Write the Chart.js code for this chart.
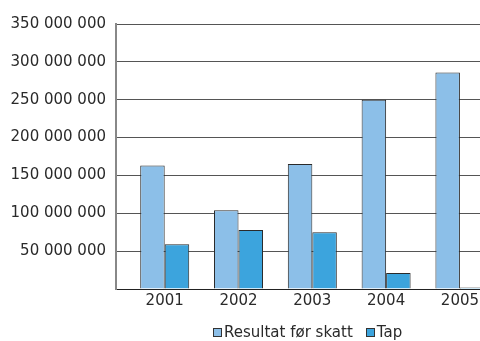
<!DOCTYPE html>
<html>
<head>
<meta charset="utf-8">
<script src="https://cdn.jsdelivr.net/npm/chart.js@4/dist/chart.umd.min.js"></script>
<style>
  html, body { margin: 0; padding: 0; background: #fff; }
  #wrap { position: relative; width: 480px; height: 341px; overflow: hidden; }
  #legend {
    position: absolute; left: 213px; top: 323px;
    display: flex; align-items: center;
    font: 15px "DejaVu Sans", sans-serif; color: #2a2a2a; line-height: 18px;
    white-space: nowrap;
  }
  #legend .box {
    display: inline-block; width: 9px; height: 9px; box-sizing: border-box;
    border: 1px solid #333; margin-right: 2px;
  }
  #legend .item + .item { margin-left: 13px; }
  #legend .item { display: flex; align-items: center; }
</style>
</head>
<body>
<div id="wrap">
  <canvas id="chart" width="480" height="341"></canvas>
  <div id="legend"></div>
</div>
<script>
var YEARS = [2001, 2002, 2003, 2004, 2005];
var RESULTAT = [163000000, 104000000, 165000000, 250000000, 286000000];
var TAP = [59000000, 78000000, 75000000, 21000000, 2000000];
var SERIES_NAMES = ["Resultat før skatt", "Tap"];
var Y_TICKS = [0, 50000000, 100000000, 150000000, 200000000, 250000000, 300000000, 350000000];

var COLORS = ["#8cbfe8", "#3ca4dd"];
var FONT = { family: "'DejaVu Sans', sans-serif", size: 15 };

function spaced(v) {
  return String(v).replace(/\B(?=(\d{3})+(?!\d))/g, " ");
}

var ctx = document.getElementById("chart");
new Chart(ctx, {
  type: "bar",
  data: {
    labels: YEARS,
    datasets: [
      {
        label: SERIES_NAMES[0],
        data: RESULTAT,
        backgroundColor: COLORS[0],
        borderColor: "#2a2a2a",
        borderWidth: 1,
      },
      {
        label: SERIES_NAMES[1],
        data: TAP,
        backgroundColor: COLORS[1],
        borderColor: "#2a2a2a",
        borderWidth: 1,
      },
    ],
  },
  options: {
    responsive: false,
    animation: false,
    categoryPercentage: 0.664,
    barPercentage: 1,
    layout: { padding: { top: 24, right: 0, bottom: 28, left: 0 } },
    plugins: { legend: { display: false }, tooltip: { enabled: false } },
    scales: {
      x: {
        type: "linear",
        offset: false,
        min: 2000.34,
        max: 2005.272,
        grid: { display: false, drawTicks: false, offset: false },
        border: { display: true, color: "#222", width: 1 },
        ticks: {
          font: FONT,
          color: "#2a2a2a",
          padding: 3,
          maxRotation: 0,
          callback: function (v) { return String(v); },
        },
        afterBuildTicks: function (scale) {
          scale.ticks = YEARS.map(function (y) { return { value: y }; });
        },
        afterFit: function (scale) {
          scale.paddingLeft = 0;
          scale.paddingRight = 0;
        },
      },
      y: {
        min: 0,
        max: 350000000,
        grid: { color: "#555", lineWidth: 1, drawTicks: false },
        border: { display: true, color: "#888", width: 2 },
        ticks: {
          font: FONT,
          color: "#2a2a2a",
          padding: 10,
          callback: function (v) { return v === 0 ? "" : spaced(v); },
        },
        afterBuildTicks: function (scale) {
          scale.ticks = Y_TICKS.map(function (v) { return { value: v }; });
        },
        afterFit: function (scale) {
          scale.width = 116;
        },
      },
    },
  },
});

// legend drawn as html so the swatch/text spacing can be tight
var legend = document.getElementById("legend");
SERIES_NAMES.forEach(function (name, i) {
  var item = document.createElement("span");
  item.className = "item";
  var box = document.createElement("span");
  box.className = "box";
  box.style.background = COLORS[i];
  item.appendChild(box);
  item.appendChild(document.createTextNode(name));
  legend.appendChild(item);
});
</script>
</body>
</html>
